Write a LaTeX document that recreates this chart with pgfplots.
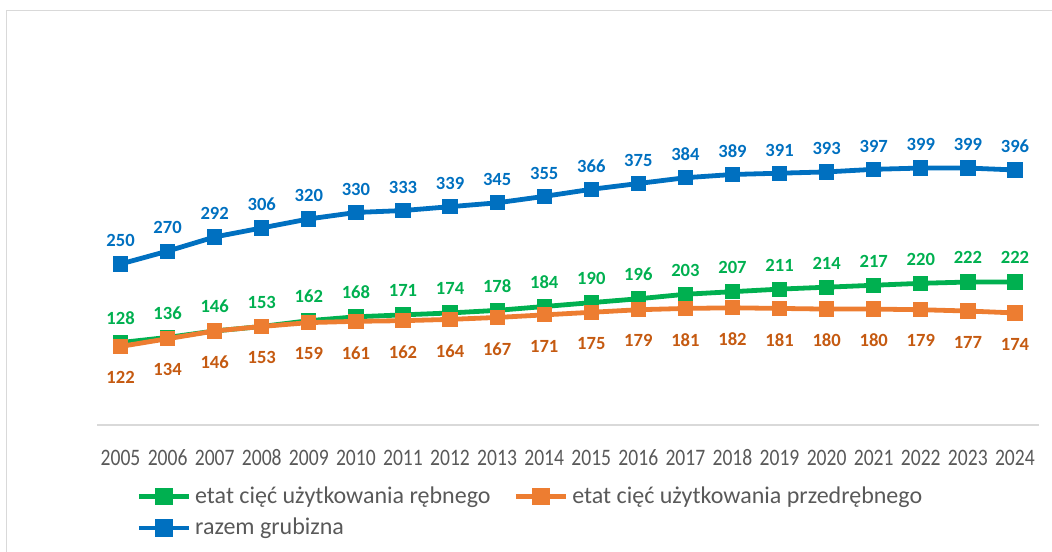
\documentclass[border=0pt]{standalone}
\usepackage{graphicx}
\usepackage{pgfplots}
\pgfplotsset{compat=1.18}
\usepackage{fontspec}
\setmainfont{Carlito}
\definecolor{cgreen}{HTML}{00B050}
\definecolor{corange}{HTML}{ED7D31}
\definecolor{corangelab}{HTML}{C55A11}
\definecolor{cblue}{HTML}{0070C0}
\definecolor{ctext}{HTML}{595959}
\definecolor{cframe}{HTML}{D9D9D9}
\begin{document}
\begin{tikzpicture}
\useasboundingbox (0,0) rectangle (526pt,275.5pt);
\draw[cframe, line width=0.8pt] (3.25pt,-2pt) -- (3.25pt,270.25pt) -- (530pt,270.25pt);
\begin{axis}[
  at={(48.5pt,63pt)}, anchor=south west,
  scale only axis, width=470.75pt, height=161pt,
  xmin=2004.5, xmax=2024.5, ymin=0, ymax=500,
  axis y line=none,
  axis x line*=bottom,
  x axis line style={cframe, line width=0.8pt, -},
  xtick={2005,...,2024}, major tick length=0pt,
  ytick=\empty,
  xticklabel={\scalebox{0.83}[1]{\pgfmathprintnumber[1000 sep={}, assume math mode=true]{\tick}}},
  xticklabel style={font=\fontsize{11.8}{13}\selectfont, text=ctext, anchor=base, yshift=-20pt},
  /pgf/number format/.cd, 1000 sep={}, assume math mode=true,
  /pgfplots/.cd,
  clip=false,
  legend columns=2,
  legend style={draw=none, fill=none, at={(0.035,-0.165)}, anchor=north west,
    font=\fontsize{12}{14}\selectfont, text=ctext,
    /tikz/every even column/.append style={column sep=9.5pt},
    row sep=2pt},
  legend cell align=left,
  legend image code/.code={\draw[mark repeat=2,mark phase=2,#1,mark size=3.2pt] plot coordinates {(0pt,0pt) (12.5pt,0pt) (25pt,0pt)};},
  every axis plot/.append style={line width=2.4pt, mark=square*, mark size=2.6pt, mark options={line width=0pt}},
  nodes near coords,
  nodes near coords style={font=\bfseries\fontsize{9.3}{11}\selectfont},
]
\addplot[cgreen, mark options={fill=cgreen, draw=cgreen}, nodes near coords style={text=cgreen, anchor=south, yshift=4.5pt}] coordinates {
(2005,128) (2006,136) (2007,146) (2008,153) (2009,162) (2010,168) (2011,171) (2012,174) (2013,178) (2014,184)
(2015,190) (2016,196) (2017,203) (2018,207) (2019,211) (2020,214) (2021,217) (2022,220) (2023,222) (2024,222)};
\addlegendentry{etat cięć użytkowania rębnego}
\addplot[corange, mark options={fill=corange, draw=corange}, nodes near coords style={text=corangelab, anchor=north, yshift=-8pt}] coordinates {
(2005,122) (2006,134) (2007,146) (2008,153) (2009,159) (2010,161) (2011,162) (2012,164) (2013,167) (2014,171)
(2015,175) (2016,179) (2017,181) (2018,182) (2019,181) (2020,180) (2021,180) (2022,179) (2023,177) (2024,174)};
\addlegendentry{etat cięć użytkowania przedrębnego}
\addplot[cblue, mark options={fill=cblue, draw=cblue}, nodes near coords style={text=cblue, anchor=south, yshift=4pt}] coordinates {
(2005,250) (2006,270) (2007,292) (2008,306) (2009,320) (2010,330) (2011,333) (2012,339) (2013,345) (2014,355)
(2015,366) (2016,375) (2017,384) (2018,389) (2019,391) (2020,393) (2021,397) (2022,399) (2023,399) (2024,396)};
\addlegendentry{razem grubizna}
\end{axis}
\end{tikzpicture}
\end{document}
